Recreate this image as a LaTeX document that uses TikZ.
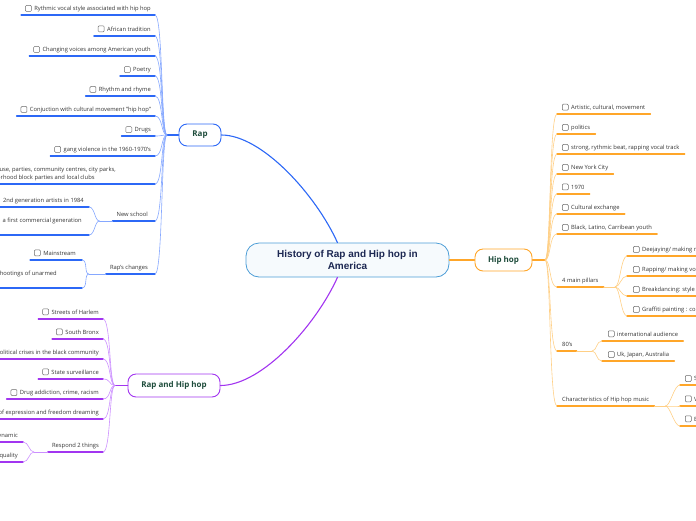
\documentclass[tikz,border=0pt]{standalone}
\usepackage{fontspec}
\setmainfont{Open Sans}
\newfontfamily\titlefont{Liberation Sans}
\definecolor{rapblue}{HTML}{2C68F6}
\definecolor{raplight}{HTML}{86A8FF}
\definecolor{rhhpurple}{HTML}{A235F0}
\definecolor{rhhlight}{HTML}{CC90FF}
\definecolor{hhorange}{HTML}{FFA629}
\definecolor{hhlight}{HTML}{FFCF85}
\definecolor{histblue}{HTML}{4C9DD6}
\definecolor{histfill}{HTML}{F6FAFD}
\definecolor{histnavy}{HTML}{1C2752}
\definecolor{titlegreen}{HTML}{1E4C3B}
\definecolor{leafgray}{HTML}{333333}
\definecolor{boxgray}{HTML}{6A6A6A}

\begin{document}
\begin{tikzpicture}[x=1pt,y=-1pt,line cap=round,
	every node/.style={font=\fontsize{5.8}{8}\selectfont,text=leafgray},
	leaf/.style={inner sep=0pt},
	chk/.style={draw=boxgray,rounded corners=1pt,minimum size=6pt,inner sep=0pt,line width=0.5pt},
	box/.style={label={[chk,label distance=2.5pt]left:{}}},
	topic/.style={draw,rounded corners=8pt,line width=0.9pt,fill=white,minimum height=22pt,font=\bfseries\fontsize{8}{9.5}\selectfont,text=titlegreen},
	rapu/.style={rapblue,line width=1.5pt},
	rapc/.style={raplight,line width=0.6pt},
	rhhu/.style={rhhpurple,line width=1.5pt},
	rhhc/.style={rhhlight,line width=0.6pt},
	hhu/.style={hhorange,line width=1.5pt},
	hhc/.style={hhlight,line width=0.6pt}]
	\useasboundingbox (0,0) rectangle (696,520);

	\node[draw=histblue,fill=histfill,line width=0.8pt,rounded corners=13pt,minimum width=203pt,minimum height=34pt,align=center,text=histnavy,font=\titlefont\bfseries\fontsize{10}{11.5}\selectfont] (hist) at (347.5,260) {History of Rap and Hip hop in\\America};
	\node[topic,draw=rapblue,minimum width=42pt] (rap) at (200,135) {Rap};
	\node[topic,draw=rhhpurple,minimum width=92pt,minimum height=23pt] (rhh) at (174,385.5) {Rap and Hip hop};
	\node[topic,draw=hhorange,minimum width=57pt] (hh) at (503.5,260) {Hip hop};

	\draw[rapblue,line width=1.1pt] (hist.120) .. controls (316,195) and (262,135) .. (rap.east);
	\draw[rhhpurple,line width=1.1pt] (hist.240) .. controls (316,325) and (262,385.5) .. (rhh.east);
	\draw[hhorange,line width=1.1pt] (hist.east) -- (hh.west);

	\coordinate (rapb) at (167,135);
	\draw[rapu] (rap.west) -- (rapb);
	\coordinate (rhhb) at (115,385.5);
	\draw[rhhu] (rhh.west) -- (rhhb);
	\coordinate (hhb) at (545,260);
	\draw[hhu] (hh.east) -- (hhb);

	\node[leaf,box,anchor=base east] (r1) at (151,10) {Rythmic vocal style associated with hip hop};
	\draw[rapu] (155,15) coordinate (r1e) -- (r1e -| r1.west) -- ++(-13,0);
	\draw[rapc] (rapb) .. controls +(-6,0) and +(8,0) .. (r1e);
	\node[leaf,box,anchor=base east] (r2) at (151,31) {African tradition};
	\draw[rapu] (155,36) coordinate (r2e) -- (r2e -| r2.west) -- ++(-13,0);
	\draw[rapc] (rapb) .. controls +(-6,0) and +(8,0) .. (r2e);
	\node[leaf,box,anchor=base east] (r3) at (151,51) {Changing voices among American youth};
	\draw[rapu] (155,56) coordinate (r3e) -- (r3e -| r3.west) -- ++(-13,0);
	\draw[rapc] (rapb) .. controls +(-6,0) and +(8,0) .. (r3e);
	\node[leaf,box,anchor=base east] (r4) at (151,71) {Poetry};
	\draw[rapu] (155,76) coordinate (r4e) -- (r4e -| r4.west) -- ++(-13,0);
	\draw[rapc] (rapb) .. controls +(-6,0) and +(8,0) .. (r4e);
	\node[leaf,box,anchor=base east] (r5) at (151,91) {Rhythm and rhyme};
	\draw[rapu] (155,96) coordinate (r5e) -- (r5e -| r5.west) -- ++(-13,0);
	\draw[rapc] (rapb) .. controls +(-6,0) and +(8,0) .. (r5e);
	\node[leaf,box,anchor=base east] (r6) at (151,111) {Conjuction with cultural movement "hip hop"};
	\draw[rapu] (155,116) coordinate (r6e) -- (r6e -| r6.west) -- ++(-13,0);
	\draw[rapc] (rapb) .. controls +(-6,0) and +(8,0) .. (r6e);
	\node[leaf,box,anchor=base east] (r7) at (151,131) {Drugs};
	\draw[rapu] (155,136) coordinate (r7e) -- (r7e -| r7.west) -- ++(-13,0);
	\draw[rapc] (rapb) .. controls +(-6,0) and +(8,0) .. (r7e);
	\node[leaf,box,anchor=base east] (r8) at (151,151) {gang violence in the 1960-1970's};
	\draw[rapu] (155,156) coordinate (r8e) -- (r8e -| r8.west) -- ++(-13,0);
	\draw[rapc] (rapb) .. controls +(-6,0) and +(8,0) .. (r8e);
	\node[leaf,anchor=south east,align=left] (r9) at (116,181) {Warehouse, parties, community centres, city parks,\\neighborhood block parties and local clubs};
	\draw[rapu] (155,184) coordinate (r9e) -- (-5,184);
	\draw[rapc] (rapb) .. controls +(-6,0) and +(8,0) .. (r9e);
	\node[leaf,anchor=base east] (r10) at (148,216) {New school};
	\draw[rapu] (155,221) coordinate (r10e) -- (r10e -| r10.west) -- ++(-4,0) coordinate (r10w);
	\draw[rapc] (rapb) .. controls +(-6,0) and +(8,0) .. (r10e);
	\draw[rapc] (r10w) -- ++(-13,0) coordinate (r10b);
	\node[leaf,anchor=base east] (r11) at (148,269) {Rap's changes};
	\draw[rapu] (155,274) coordinate (r11e) -- (r11e -| r11.west) -- ++(-4,0) coordinate (r11w);
	\draw[rapc] (rapb) .. controls +(-6,0) and +(8,0) .. (r11e);
	\draw[rapc] (r11w) -- ++(-17,0) coordinate (r11b);

	\node[leaf,anchor=base east] (n1) at (84,202) {2nd generation artists in 1984};
	\draw[rapu] (89,207) coordinate (n1e) -- (-5,207);
	\draw[rapc] (r10b) .. controls +(-5,0) and +(6,0) .. (n1e);
	\node[leaf,anchor=base east] (n2) at (82,222) {a first commercial generation};
	\draw[rapu] (89,235) coordinate (n2e) -- (-5,235);
	\draw[rapc] (r10b) .. controls +(-5,0) and +(6,0) .. (n2e);
	\node[leaf,box,anchor=base east] (c1) at (76,255) {Mainstream};
	\draw[rapu] (82,260) coordinate (c1e) -- (c1e -| c1.west) -- ++(-13,0);
	\draw[rapc] (r11b) .. controls +(-5,0) and +(6,0) .. (c1e);
	\node[leaf,anchor=base east] (c2) at (57,275) {Police shootings of unarmed};
	\draw[rapu] (82,288) coordinate (c2e) -- (-5,288);
	\draw[rapc] (r11b) .. controls +(-5,0) and +(6,0) .. (c2e);

	\node[leaf,box,anchor=base east] (p1) at (99,314) {Streets of Harlem};
	\draw[rhhu] (103,319) coordinate (p1e) -- (p1e -| p1.west) -- ++(-13,0);
	\draw[rhhc] (rhhb) .. controls +(-6,0) and +(8,0) .. (p1e);
	\node[leaf,box,anchor=base east] (p2) at (99,334) {South Bronx};
	\draw[rhhu] (103,339) coordinate (p2e) -- (p2e -| p2.west) -- ++(-13,0);
	\draw[rhhc] (rhhb) .. controls +(-6,0) and +(8,0) .. (p2e);
	\node[leaf,anchor=base east] (p3) at (99,354) {Political crises in the black community};
	\draw[rhhu] (103,359) coordinate (p3e) -- (-5,359);
	\draw[rhhc] (rhhb) .. controls +(-6,0) and +(8,0) .. (p3e);
	\node[leaf,box,anchor=base east] (p4) at (99,374) {State surveillance};
	\draw[rhhu] (103,379) coordinate (p4e) -- (p4e -| p4.west) -- ++(-13,0);
	\draw[rhhc] (rhhb) .. controls +(-6,0) and +(8,0) .. (p4e);
	\node[leaf,box,anchor=base east] (p5) at (99,394) {Drug addiction, crime, racism};
	\draw[rhhu] (103,399) coordinate (p5e) -- (p5e -| p5.west) -- ++(-13,0);
	\draw[rhhc] (rhhb) .. controls +(-6,0) and +(8,0) .. (p5e);
	\node[leaf,anchor=base east] (p6) at (99,414) {Form of expression and freedom dreaming};
	\draw[rhhu] (103,419) coordinate (p6e) -- (-5,419);
	\draw[rhhc] (rhhb) .. controls +(-6,0) and +(8,0) .. (p6e);
	\node[leaf,anchor=base east] (p7) at (99,447) {Respond 2 things};
	\draw[rhhu] (103,452) coordinate (p7e) -- (p7e -| p7.west) -- ++(-4,0) coordinate (p7w);
	\draw[rhhc] (rhhb) .. controls +(-6,0) and +(8,0) .. (p7e);
	\draw[rhhc] (p7w) -- ++(-14,0) coordinate (p7b);
	\node[leaf,anchor=base east] (q1) at (18,437) {dynamic};
	\draw[rhhu] (23,442) coordinate (q1e) -- (-5,442);
	\draw[rhhc] (p7b) .. controls +(-5,0) and +(6,0) .. (q1e);
	\node[leaf,anchor=base east] (q2) at (18,457) {Inequality};
	\draw[rhhu] (23,462) coordinate (q2e) -- (-5,462);
	\draw[rhhc] (p7b) .. controls +(-5,0) and +(6,0) .. (q2e);

	\node[leaf,box,anchor=base west] (h1) at (571,109) {Artistic, cultural, movement};
	\draw[hhu] (557,114) coordinate (h1s) -- (h1s -| h1.east) -- ++(5,0);
	\draw[hhc] (hhb) .. controls +(6,0) and +(-8,0) .. (h1s);
	\node[leaf,box,anchor=base west] (h2) at (571,129) {politics};
	\draw[hhu] (557,134) coordinate (h2s) -- (h2s -| h2.east) -- ++(5,0);
	\draw[hhc] (hhb) .. controls +(6,0) and +(-8,0) .. (h2s);
	\node[leaf,box,anchor=base west] (h3) at (571,149) {strong, rythmic beat, rapping vocal track};
	\draw[hhu] (557,154) coordinate (h3s) -- (h3s -| h3.east) -- ++(5,0);
	\draw[hhc] (hhb) .. controls +(6,0) and +(-8,0) .. (h3s);
	\node[leaf,box,anchor=base west] (h4) at (571,169) {New York City};
	\draw[hhu] (557,174) coordinate (h4s) -- (h4s -| h4.east) -- ++(5,0);
	\draw[hhc] (hhb) .. controls +(6,0) and +(-8,0) .. (h4s);
	\node[leaf,box,anchor=base west] (h5) at (571,189) {1970};
	\draw[hhu] (557,194) coordinate (h5s) -- (h5s -| h5.east) -- ++(5,0);
	\draw[hhc] (hhb) .. controls +(6,0) and +(-8,0) .. (h5s);
	\node[leaf,box,anchor=base west] (h6) at (571,209) {Cultural exchange};
	\draw[hhu] (557,214) coordinate (h6s) -- (h6s -| h6.east) -- ++(5,0);
	\draw[hhc] (hhb) .. controls +(6,0) and +(-8,0) .. (h6s);
	\node[leaf,box,anchor=base west] (h7) at (571,229) {Black, Latino, Carribean youth};
	\draw[hhu] (557,234) coordinate (h7s) -- (h7s -| h7.east) -- ++(5,0);
	\draw[hhc] (hhb) .. controls +(6,0) and +(-8,0) .. (h7s);
	\node[leaf,anchor=base west] (h8) at (562,282) {4 main pillars};
	\draw[hhu] (557,287) coordinate (h8s) -- (h8s -| h8.east) -- ++(5,0) coordinate (h8w);
	\draw[hhc] (hhb) .. controls +(6,0) and +(-8,0) .. (h8s);
	\draw[hhc] (h8w) -- (615,287) coordinate (h8b);
	\node[leaf,anchor=base west] (h9) at (562,346) {80's};
	\draw[hhu] (557,351) coordinate (h9s) -- (h9s -| h9.east) -- ++(4,0) coordinate (h9w);
	\draw[hhc] (hhb) .. controls +(6,0) and +(-8,0) .. (h9s);
	\draw[hhc] (h9w) -- (592,351) coordinate (h9b);
	\node[leaf,anchor=base west] (h10) at (562,401) {Characteristics of Hip hop music};
	\draw[hhu] (557,406) coordinate (h10s) -- (h10s -| h10.east) -- ++(5,0) coordinate (h10w);
	\draw[hhc] (hhb) .. controls +(6,0) and +(-8,0) .. (h10s);
	\draw[hhc] (h10w) -- ++(11,0) coordinate (h10b);

	\node[leaf,box,anchor=base west] (g1) at (642,251) {Deejaying/ making music};
	\draw[hhu] (627,256) coordinate (g1s) -- (g1s -| g1.east) -- ++(5,0);
	\draw[hhc] (h8b) .. controls +(5,0) and +(-6,0) .. (g1s);
	\node[leaf,box,anchor=base west] (g2) at (642,271) {Rapping/ making vocals};
	\draw[hhu] (627,276) coordinate (g2s) -- (g2s -| g2.east) -- ++(5,0);
	\draw[hhc] (h8b) .. controls +(5,0) and +(-6,0) .. (g2s);
	\node[leaf,box,anchor=base west] (g3) at (642,291) {Breakdancing: style of dancing};
	\draw[hhu] (627,296) coordinate (g3s) -- (g3s -| g3.east) -- ++(5,0);
	\draw[hhc] (h8b) .. controls +(5,0) and +(-6,0) .. (g3s);
	\node[leaf,box,anchor=base west] (g4) at (642,311) {Graffiti painting : colorful drawings};
	\draw[hhu] (627,316) coordinate (g4s) -- (g4s -| g4.east) -- ++(5,0);
	\draw[hhc] (h8b) .. controls +(5,0) and +(-6,0) .. (g4s);
	\node[leaf,box,anchor=base west] (k1) at (617,336) {international audience};
	\draw[hhu] (602,341) coordinate (k1s) -- (k1s -| k1.east) -- ++(5,0);
	\draw[hhc] (h9b) .. controls +(5,0) and +(-6,0) .. (k1s);
	\node[leaf,box,anchor=base west] (k2) at (617,356) {Uk, Japan, Australia};
	\draw[hhu] (602,361) coordinate (k2s) -- (k2s -| k2.east) -- ++(5,0);
	\draw[hhc] (h9b) .. controls +(5,0) and +(-6,0) .. (k2s);
	\node[leaf,box,anchor=base west] (m1) at (694,380) {Sampling};
	\draw[hhu] (680,385) coordinate (m1s) -- (m1s -| m1.east) -- ++(5,0);
	\draw[hhc] (h10b) .. controls +(5,0) and +(-6,0) .. (m1s);
	\node[leaf,box,anchor=base west] (m2) at (694,401) {Vocals};
	\draw[hhu] (680,406) coordinate (m2s) -- (m2s -| m2.east) -- ++(5,0);
	\draw[hhc] (h10b) .. controls +(5,0) and +(-6,0) .. (m2s);
	\node[leaf,box,anchor=base west] (m3) at (694,421) {Electronic beats};
	\draw[hhu] (680,426) coordinate (m3s) -- (m3s -| m3.east) -- ++(5,0);
	\draw[hhc] (h10b) .. controls +(5,0) and +(-6,0) .. (m3s);
\end{tikzpicture}
\end{document}
